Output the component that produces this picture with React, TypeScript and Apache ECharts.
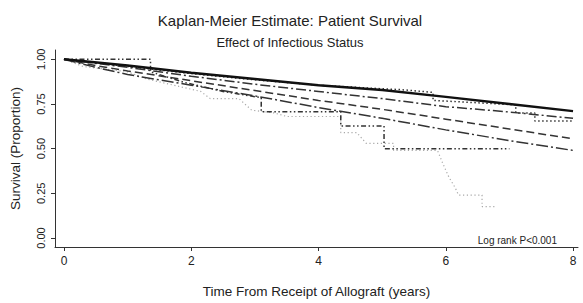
import React, { useEffect, useRef } from "react";
import * as echarts from "echarts";

// Tick labels
const xTicks = [0, 2, 4, 6, 8];
const yTicks = [0, 0.25, 0.5, 0.75, 1];

// Group 1 (solid)
const g1Time = [0, 1, 2, 3, 4, 5, 6, 7, 8];
const g1Surv = [1, 0.965, 0.925, 0.89, 0.855, 0.828, 0.79, 0.75, 0.71];
// Group 2 (long dash-dot)
const g2Time = [0, 1, 2, 3, 4, 5, 6, 7, 8];
const g2Surv = [1, 0.955, 0.905, 0.86, 0.82, 0.78, 0.735, 0.705, 0.67];
// Group 3 (dotted)
const g3Time = [0, 1, 2, 3, 4, 5, 5.3, 5.8, 5.8, 7.1, 7.1, 7.4, 7.4, 8];
const g3Surv = [1, 0.96, 0.92, 0.885, 0.855, 0.835, 0.83, 0.815, 0.77, 0.745, 0.7, 0.7, 0.655, 0.655];
// Group 4 (long dash)
const g4Time = [0, 0.5, 1, 2, 3, 4, 5, 6, 7, 8];
const g4Surv = [1, 0.965, 0.935, 0.88, 0.825, 0.77, 0.72, 0.665, 0.61, 0.555];
// Group 5 (dash-dot)
const g5Time = [0, 0.5, 1, 2, 3, 4, 5, 6, 7, 8];
const g5Surv = [1, 0.955, 0.915, 0.855, 0.795, 0.73, 0.67, 0.605, 0.545, 0.49];
// Group 6 (dash-dot-dot)
const g6Time = [0, 1.36, 1.36, 1.9, 2.5, 3.1, 3.1, 4.35, 4.35, 5.03, 5.03, 7.0];
const g6Surv = [1, 1, 0.93, 0.87, 0.82, 0.785, 0.707, 0.707, 0.627, 0.627, 0.5, 0.5];
// Group 7 (grey dotted)
const g7Time = [0, 0.3, 1.0, 1.3, 2.15, 2.3, 2.75, 2.95, 3.3, 3.5, 4.35, 4.35, 4.6, 4.75, 5.18, 5.18, 5.87, 5.95, 6.05, 6.15, 6.2, 6.57, 6.57, 6.8];
const g7Surv = [1, 0.96, 0.93, 0.89, 0.82, 0.78, 0.78, 0.715, 0.7, 0.68, 0.68, 0.59, 0.59, 0.53, 0.53, 0.49, 0.49, 0.42, 0.34, 0.28, 0.24, 0.24, 0.175, 0.175];

const zip = (t: number[], s: number[]) => t.map((v, i) => [v, s[i]]);

const FONT = "'Liberation Sans', Arial, Helvetica, sans-serif";

export default function App() {
  const ref = useRef<HTMLDivElement>(null);
  useEffect(() => {
    if (!ref.current) return;
    const chart = echarts.init(ref.current, undefined, { renderer: "svg" });
    const mk = (name: string, t: number[], s: number[], color: string, width: number, type: any) => ({
      name,
      type: "line",
      data: zip(t, s),
      showSymbol: false,
      symbol: "none",
      silent: true,
      lineStyle: { color, width, type },
      z: name === "Group 1" ? 10 : 5,
    });
    chart.setOption({
      animation: false,
      textStyle: { fontFamily: FONT },
      title: [
        {
          text: "Kaplan-Meier Estimate: Patient Survival",
          left: 285,
          top: 8,
          textAlign: "center",
          textStyle: { fontSize: 15, fontWeight: "normal", color: "#222", fontFamily: FONT },
        },
        {
          text: "Effect of Infectious Status",
          left: 285,
          top: 31,
          textAlign: "center",
          textStyle: { fontSize: 13, fontWeight: "normal", color: "#222", fontFamily: FONT },
        },
      ],
      grid: { left: 54, right: 5, top: 50, bottom: 56, containLabel: false },
      xAxis: {
        type: "value",
        min: -0.141,
        max: 8.078,
        name: "Time From Receipt of Allograft (years)",
        nameLocation: "middle",
        nameGap: 37,
        nameTextStyle: { fontSize: 13.5, color: "#222", fontFamily: FONT },
        axisLine: { show: true, onZero: false, lineStyle: { color: "#333", width: 1 } },
        axisTick: { show: true, length: 4, customValues: xTicks, lineStyle: { color: "#333" } },
        axisLabel: { customValues: xTicks, fontSize: 12, color: "#222", margin: 8, fontFamily: FONT },
        splitLine: { show: false },
      },
      yAxis: {
        type: "value",
        min: -0.0504,
        max: 1.052,
        name: "Survival (Proportion)",
        nameLocation: "middle",
        nameGap: 33,
        nameTextStyle: { fontSize: 13.5, color: "#222", fontFamily: FONT },
        axisLine: { show: true, onZero: false, lineStyle: { color: "#333", width: 1 } },
        axisTick: { show: true, length: 4, customValues: yTicks, lineStyle: { color: "#333" } },
        axisLabel: {
          customValues: yTicks,
          rotate: 90,
          fontSize: 11,
          color: "#222",
          margin: 9,
          fontFamily: FONT,
          formatter: (v: number) => v.toFixed(2),
        },
        splitLine: { show: false },
      },
      graphic: [
        {
          type: "text",
          x: 557,
          y: 240,
          style: {
            text: "Log rank P<0.001",
            fontSize: 10,
            fill: "#222",
            fontFamily: FONT,
            textAlign: "right",
            textVerticalAlign: "middle",
          },
        },
      ],
      series: [
        mk("Group 7", g7Time, g7Surv, "#a8a8a8", 1.2, [1.2, 2.6]),
        mk("Group 6", g6Time, g6Surv, "#333", 1.5, [5, 2.5, 1.5, 2.5, 1.5, 2.5]),
        mk("Group 5", g5Time, g5Surv, "#333", 1.5, [12, 3, 2, 3]),
        mk("Group 4", g4Time, g4Surv, "#333", 1.5, [8, 4]),
        mk("Group 3", g3Time, g3Surv, "#333", 1.5, [1.5, 2.5]),
        mk("Group 2", g2Time, g2Surv, "#333", 1.5, [10, 3, 2, 3]),
        mk("Group 1", g1Time, g1Surv, "#111", 2.4, "solid"),
      ],
    });
    return () => chart.dispose();
  }, []);
  return (
    <div
      ref={ref}
      style={{ position: "absolute", left: 0, top: 0, width: 583, height: 303, background: "#fff" }}
    />
  );
}
